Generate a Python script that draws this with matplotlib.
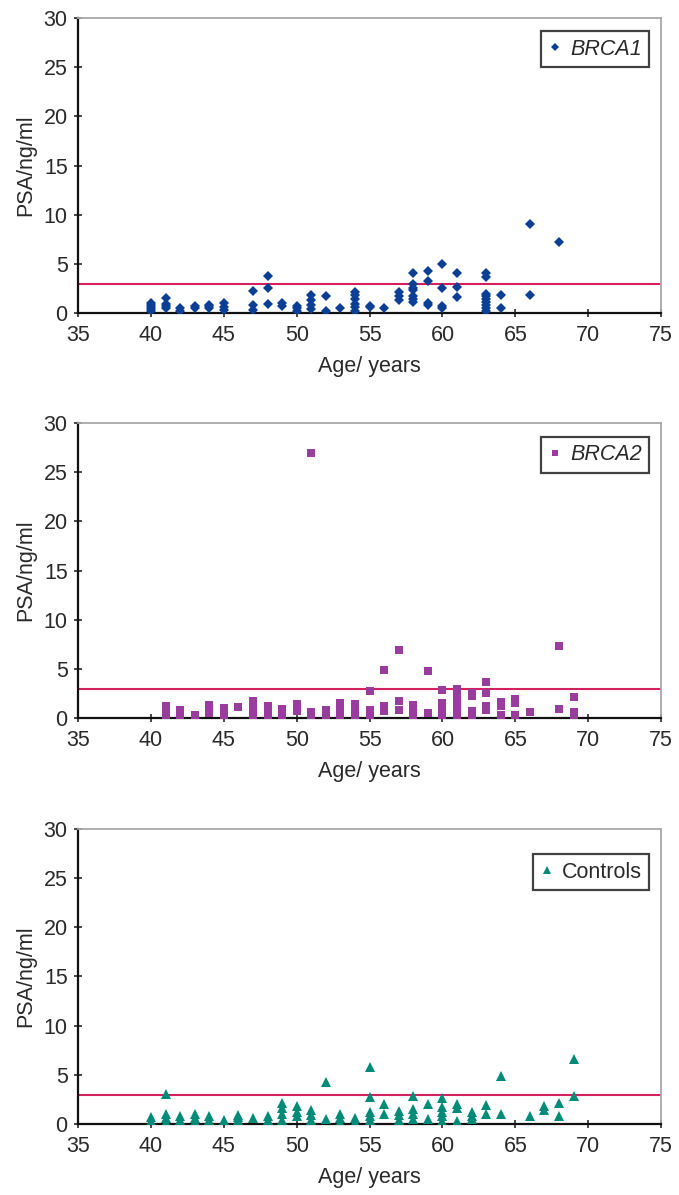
import matplotlib
matplotlib.use('Agg')
import matplotlib.pyplot as plt
from matplotlib.lines import Line2D

plt.rcParams['font.family'] = ['Liberation Sans Narrow', 'Liberation Sans', 'DejaVu Sans']

# ── Data ──────────────────────────────────────────────────────────────
brca1_age = [40, 40, 40, 40, 40, 41, 41, 41, 41, 42, 42, 43, 43, 44, 44, 44,
             45, 45, 45, 47, 47, 47, 48, 48, 48, 49, 49, 50, 50, 50,
             51, 51, 51, 51, 52, 52, 53, 54, 54, 54, 54, 54, 54, 55, 55, 56,
             57, 57, 57, 58, 58, 58, 58, 58, 58, 58, 59, 59, 59, 59,
             60, 60, 60, 60, 61, 61, 61, 63, 63, 63, 63, 63, 63, 63, 63, 63,
             64, 64, 66, 66, 68]
brca1_psa = [0.2, 0.4, 0.6, 0.8, 1.0, 0.5, 0.7, 0.9, 1.5, 0.2, 0.5, 0.5, 0.7, 0.5, 0.7, 0.8,
             0.3, 0.6, 1.0, 0.3, 0.8, 2.2, 0.9, 2.6, 3.8, 0.7, 1.0, 0.2, 0.5, 0.7,
             0.4, 0.8, 1.3, 1.8, 0.2, 1.7, 0.5, 0.2, 0.6, 0.9, 1.4, 1.8, 2.1, 0.6, 0.7, 0.5,
             1.3, 1.7, 2.1, 1.1, 1.4, 1.7, 2.3, 2.6, 3.0, 4.1, 0.8, 1.0, 3.3, 4.3,
             0.5, 0.7, 2.6, 5.0, 1.6, 2.7, 4.1, 0.2, 0.5, 0.8, 1.1, 1.4, 1.7, 1.9, 3.7, 4.1,
             0.5, 1.8, 1.8, 9.1, 7.2]

brca2_age = [41, 41, 41, 41, 42, 42, 43, 44, 44, 44, 45, 45, 45, 46,
             47, 47, 47, 47, 48, 48, 48, 49, 49, 49, 50, 50, 50, 51, 51, 51,
             52, 52, 52, 53, 53, 53, 53, 54, 54, 54, 54, 55, 55, 55,
             56, 56, 56, 57, 57, 57, 58, 58, 58, 58, 59, 59, 60, 60, 60, 60, 60,
             61, 61, 61, 61, 61, 61, 61, 61, 62, 62, 62, 62, 63, 63, 63, 63,
             64, 64, 64, 65, 65, 65, 66, 68, 68, 69, 69, 69]
brca2_psa = [0.2, 0.6, 1.0, 1.2, 0.25, 0.8, 0.3, 0.5, 0.9, 1.3, 0.25, 0.6, 1.0, 1.1,
             0.3, 0.8, 1.3, 1.75, 0.25, 0.7, 1.2, 0.25, 0.6, 0.95, 0.7, 1.1, 1.4, 0.3, 0.65, 27.0,
             0.1, 0.5, 0.85, 0.25, 0.7, 1.1, 1.5, 0.25, 0.7, 1.1, 1.4, 0.25, 0.85, 2.8,
             0.7, 1.2, 4.9, 0.8, 1.7, 6.9, 0.1, 0.5, 0.9, 1.3, 0.5, 4.8, 0.25, 0.7, 1.1, 1.5, 2.9,
             0.25, 0.7, 1.1, 1.5, 1.9, 2.3, 2.7, 3.0, 0.25, 0.7, 2.3, 2.6, 0.8, 1.2, 2.6, 3.7,
             0.3, 1.2, 1.6, 0.3, 1.5, 2.0, 0.6, 0.95, 7.3, 0.3, 0.6, 2.2]

ctrl_age = [40, 40, 41, 41, 41, 41, 42, 42, 43, 43, 43, 44, 44, 45, 45, 46, 46, 46,
            47, 48, 48, 49, 49, 49, 49, 49, 50, 50, 50, 51, 51, 51, 51, 52, 52,
            53, 53, 53, 54, 54, 55, 55, 55, 55, 55, 55, 56, 56, 57, 57, 57,
            58, 58, 58, 58, 59, 59, 60, 60, 60, 60, 60, 61, 61, 61, 62, 62, 62,
            63, 63, 64, 64, 66, 67, 67, 68, 68, 69, 69]
ctrl_psa = [0.3, 0.7, 0.24, 0.6, 1.0, 3.05, 0.4, 0.8, 0.3, 0.6, 1.0, 0.4, 0.8, 0.0, 0.4, 0.4, 0.7, 0.9,
            0.6, 0.4, 0.8, 0.0, 0.4, 1.0, 1.6, 2.1, 0.8, 1.25, 1.8, 0.0, 0.4, 0.9, 1.4, 0.5, 4.3,
            0.2, 0.6, 1.0, 0.2, 0.6, 0.1, 0.4, 0.8, 1.2, 2.7, 5.8, 1.0, 2.0, 0.4, 0.9, 1.35,
            0.5, 1.0, 1.5, 2.85, 0.5, 2.0, 0.3, 0.8, 1.2, 1.7, 2.6, 0.3, 1.6, 2.0, 0.5, 0.8, 1.2,
            1.0, 1.9, 1.0, 4.9, 0.8, 1.4, 1.8, 0.8, 2.1, 2.85, 6.6]

threshold = 3.0

panels = [
    (brca1_age, brca1_psa, 'D', 5.0, '#0b3f95', 'BRCA1', 'italic'),
    (brca2_age, brca2_psa, 's', 5.4, '#9a3c9e', 'BRCA2', 'italic'),
    (ctrl_age, ctrl_psa, '^', 6.8, '#008a78', 'Controls', 'normal'),
]

# ── Figure ────────────────────────────────────────────────────────────
fig = plt.figure(figsize=(6.79, 11.95), dpi=100)
fig.patch.set_facecolor('white')

bottoms = [0.738, 0.399, 0.0594]
legend_top = [0.956, 0.954, 0.915]
for (age, psa, mk, ms, col, name, style), b, lt in zip(panels, bottoms, legend_top):
    ax = fig.add_axes([0.115, b, 0.8586, 0.2469])
    ax.plot(age, psa, linestyle='none', marker=mk, ms=ms, color=col,
            markeredgewidth=0, zorder=3)
    ax.axhline(threshold, color='#d4205f', lw=1.5, zorder=2)

    ax.set_xlim(35, 75)
    ax.set_ylim(0, 30)
    ax.set_xticks(range(35, 76, 5))
    ax.set_yticks(range(0, 31, 5))
    ax.tick_params(direction='inout', length=6, width=1.2, labelsize=15.5,
                   colors='#2a2a2a')
    ax.tick_params(axis='x', pad=5.5)
    ax.tick_params(axis='y', pad=4.5)
    ax.set_xlabel('Age/ years', fontsize=15.5, color='#2a2a2a', labelpad=7)
    ax.set_ylabel('PSA/ng/ml', fontsize=15.5, color='#2a2a2a', labelpad=5)

    for s in ['left', 'bottom']:
        ax.spines[s].set_color('#111111')
        ax.spines[s].set_linewidth(1.6)
    for s in ['top', 'right']:
        ax.spines[s].set_color('#a8a8a8')
        ax.spines[s].set_linewidth(1.3)

    handle = Line2D([], [], linestyle='none', marker=mk, ms=ms * 0.85, color=col,
                    markeredgewidth=0)
    leg = ax.legend([handle], [name], loc='upper right',
                    bbox_to_anchor=(0.98, lt), borderaxespad=0,
                    frameon=True, fancybox=False,
                    handlelength=0.6, handletextpad=0.4, borderpad=0.35,
                    prop={'size': 15.5, 'style': style})
    leg.get_frame().set_edgecolor('#111111')
    leg.get_frame().set_linewidth(1.6)
    for t in leg.get_texts():
        t.set_color('#2a2a2a')

plt.savefig('out.png', dpi=100, facecolor='white')
plt.close()
